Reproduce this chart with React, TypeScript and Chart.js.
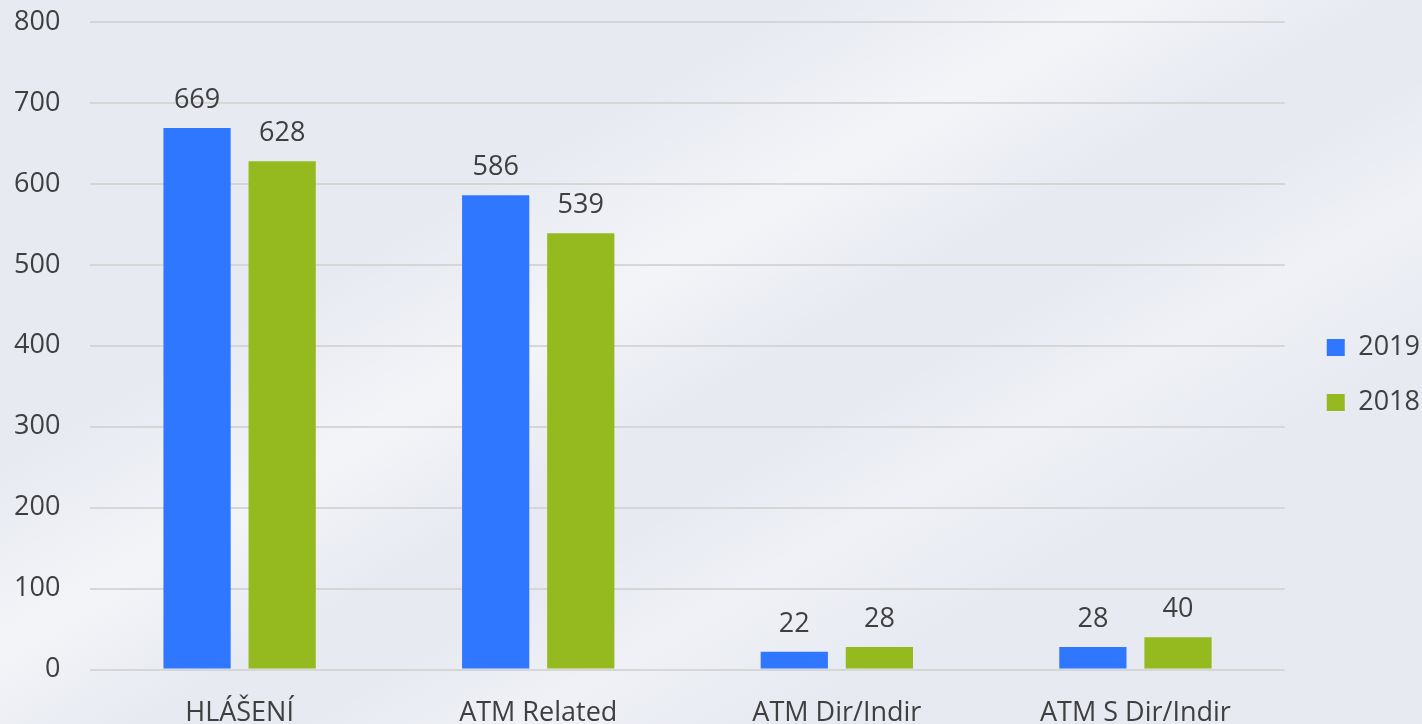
import React, { useEffect, useRef } from "react";
import { Chart, registerables } from "chart.js";

Chart.register(...registerables);

const categories = ["HLÁŠENÍ", "ATM Related", "ATM Dir/Indir", "ATM S Dir/Indir"];
const values2019 = [669, 586, 22, 28];
const values2018 = [628, 539, 28, 40];
const seriesLabels = ["2019", "2018"];
const yTicks = [0, 100, 200, 300, 400, 500, 600, 700, 800];

const FONT = "'Open Sans', 'DejaVu Sans', sans-serif";
const TEXT = "#3f3f3f";

const valueLabels = {
  id: "valueLabels",
  afterDatasetsDraw(chart: any) {
    const ctx = chart.ctx;
    ctx.save();
    ctx.font = `27px ${FONT}`;
    ctx.fillStyle = TEXT;
    ctx.textAlign = "center";
    ctx.textBaseline = "alphabetic";
    chart.data.datasets.forEach((ds: any, i: number) => {
      const meta = chart.getDatasetMeta(i);
      meta.data.forEach((bar: any, j: number) => {
        ctx.fillText(String(ds.data[j]), bar.x, bar.y - 20);
      });
    });
    ctx.restore();
  },
};

const legendShift = {
  id: "legendShift",
  afterLayout(chart: any) {
    if (chart.legend) {
      chart.legend.left += 14;
      chart.legend.right += 14;
    }
  },
};

export default function App() {
  const ref = useRef<HTMLCanvasElement>(null);
  useEffect(() => {
    if (!ref.current) return;
    const chart = new Chart(ref.current, {
      type: "bar",
      data: {
        labels: categories,
        datasets: [
          {
            label: seriesLabels[0],
            data: values2019,
            backgroundColor: "#2f77ff",
            categoryPercentage: 0.57,
            barPercentage: 0.79,
          },
          {
            label: seriesLabels[1],
            data: values2018,
            backgroundColor: "#95ba1f",
            categoryPercentage: 0.57,
            barPercentage: 0.79,
          },
        ],
      },
      options: {
        animation: false,
        responsive: false,
        maintainAspectRatio: false,
        layout: { padding: { left: -16, top: 0, right: 6, bottom: -26 } },
        plugins: {
          tooltip: { enabled: false },
          legend: {
            position: "right",
            align: "center",
            labels: {
              boxWidth: 18,
              boxHeight: 17,
              padding: 28,
              color: TEXT,
              font: { family: FONT, size: 27 },
            },
          },
        },
        scales: {
          x: {
            grid: { display: false },
            border: { display: false },
            ticks: {
              color: TEXT,
              font: { family: FONT, size: 27 },
              padding: 20,
              maxRotation: 0,
            },
          },
          y: {
            min: 0,
            max: 800,
            afterBuildTicks: (axis: any) => {
              axis.ticks = yTicks.map((v) => ({ value: v }));
            },
            afterFit: (axis: any) => {
              axis.paddingTop = 22;
            },
            grid: { color: "#d6d6d6", lineWidth: 2, drawTicks: false },
            border: { display: false },
            ticks: {
              color: TEXT,
              font: { family: FONT, size: 27 },
              padding: 30,
            },
          },
        },
      },
      plugins: [valueLabels, legendShift],
    });
    return () => chart.destroy();
  }, []);

  return (
    <div
      style={{
        position: "fixed",
        left: 0,
        top: 0,
        width: 1422,
        height: 724,
        background:
          "linear-gradient(150deg, rgba(255,255,255,0) 30%, rgba(255,255,255,0.5) 42%, rgba(255,255,255,0) 52%), linear-gradient(150deg, rgba(255,255,255,0) 58%, rgba(255,255,255,0.35) 66%, rgba(255,255,255,0) 76%), #e7eaf1",
      }}
    >
      <canvas ref={ref} width={1422} height={724} style={{ display: "block" }} />
    </div>
  );
}
